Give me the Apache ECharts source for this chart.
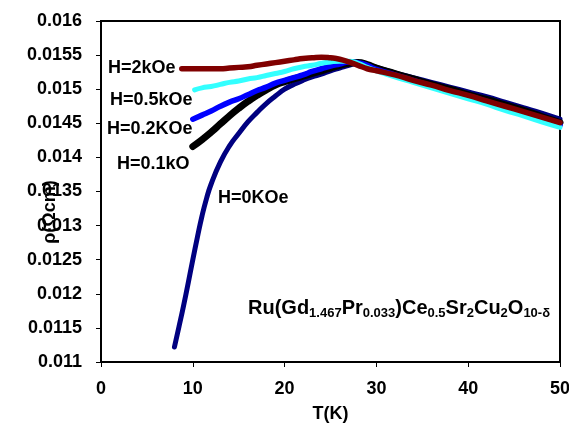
<!DOCTYPE html>
<html>
<head>
<meta charset="utf-8">
<script src="https://cdn.jsdelivr.net/npm/echarts@6/dist/echarts.min.js"></script>
<style>html,body{margin:0;padding:0;background:#fff}#c{width:569px;height:425px}</style>
</head>
<body>
<div id="c"></div>
<script>
// Temperature (K) and resistivity (ohm cm)
const T_H0   = [8, 8.5, 9, 9.5, 10, 10.5, 11, 11.5, 12, 13, 14, 15, 16, 17, 18, 19, 20, 21, 22, 23, 24, 25, 26, 27, 28, 29, 30, 32, 34, 36, 38, 40, 42, 44, 46, 48, 50];
const rho_H0 = [0.01122, 0.01152, 0.01183, 0.01216, 0.01250, 0.01283, 0.01314, 0.01340, 0.01361, 0.01393, 0.01417, 0.01435, 0.01452, 0.01466, 0.01479, 0.01490, 0.01500, 0.01507, 0.01513, 0.01518, 0.01522, 0.01527, 0.01531, 0.01535, 0.01538, 0.01536, 0.01532, 0.01524, 0.01517, 0.01510, 0.01503, 0.01496, 0.01489, 0.01481, 0.01473, 0.01465, 0.01456];

const T_H01   = [10, 11, 12, 13, 14, 15, 16, 17, 18, 19, 20, 21, 22, 23, 24, 25, 26, 27, 28, 29, 30, 32, 34, 36, 38, 40, 42, 44, 46, 48, 50];
const rho_H01 = [0.01416, 0.01426, 0.01437, 0.01449, 0.01461, 0.01472, 0.01482, 0.01491, 0.01499, 0.01506, 0.01511, 0.01515, 0.01519, 0.01523, 0.01527, 0.01531, 0.01535, 0.01538, 0.01539, 0.01536, 0.01531, 0.01523, 0.01515, 0.01507, 0.01500, 0.01492, 0.01485, 0.01477, 0.01469, 0.01460, 0.01451];

const T_H02   = [10, 11, 12, 13, 14, 15, 16, 17, 18, 19, 20, 21, 22, 23, 24, 25, 26, 27, 28, 29, 30, 32, 34, 36, 38, 40, 42, 44, 46, 48, 50];
const rho_H02 = [0.01456, 0.01462, 0.01468, 0.01475, 0.01481, 0.01486, 0.01492, 0.01498, 0.01503, 0.01509, 0.01513, 0.01517, 0.01521, 0.01526, 0.01530, 0.01534, 0.01537, 0.01540, 0.01539, 0.01535, 0.01529, 0.01521, 0.01513, 0.01505, 0.01497, 0.01490, 0.01482, 0.01473, 0.01465, 0.01456, 0.01447];

const T_H05   = [10.2, 11, 12, 13, 14, 15, 16, 17, 18, 19, 20, 21, 22, 23, 24, 25, 26, 27, 28, 29, 30, 32, 34, 36, 38, 40, 42, 44, 46, 48, 50];
const rho_H05 = [0.01499, 0.01502, 0.01504, 0.01507, 0.01510, 0.01512, 0.01515, 0.01517, 0.01520, 0.01523, 0.01526, 0.01530, 0.01533, 0.01535, 0.01538, 0.01540, 0.01541, 0.01541, 0.01538, 0.01532, 0.01527, 0.01518, 0.01510, 0.01502, 0.01494, 0.01486, 0.01478, 0.01469, 0.01461, 0.01452, 0.01444];

const T_H2   = [8.8, 10, 11, 12, 13, 14, 15, 16, 17, 18, 19, 20, 21, 22, 23, 24, 25, 26, 27, 28, 29, 30, 32, 34, 36, 38, 40, 42, 44, 46, 48, 50];
const rho_H2 = [0.01530, 0.01530, 0.01530, 0.01530, 0.01530, 0.01531, 0.01532, 0.01533, 0.01535, 0.01537, 0.01539, 0.01541, 0.01543, 0.01545, 0.01546, 0.01547, 0.01546, 0.01544, 0.01540, 0.01535, 0.01530, 0.01527, 0.01521, 0.01513, 0.01506, 0.01498, 0.01491, 0.01483, 0.01475, 0.01467, 0.01459, 0.01451];

const seriesNames = ['H=0KOe', 'H=0.1kO', 'H=0.2KOe', 'H=0.5kOe', 'H=2kOe'];
const xTicks = [0, 10, 20, 30, 40, 50];
const yTickLabels = ['0.011','0.0115','0.012','0.0125','0.013','0.0135','0.014','0.0145','0.015','0.0155','0.016'];

const pairs = (t, v) => t.map((x, i) => [x, v[i]]);
const F = '"Liberation Sans", Arial, sans-serif';

const chart = echarts.init(document.getElementById('c'));
const mk = (name, t, v, color, w) => ({
  name, type: 'line', data: pairs(t, v), smooth: true, showSymbol: false, symbol: 'none',
  lineStyle: { color, width: w, cap: 'round', join: 'round' }, animation: false
});

const lab = (text, x, y) => ({
  type: 'text', x: x, y: y,
  style: { text, font: 'bold 18px ' + F, fill: '#000', align: 'left', verticalAlign: 'middle' }
});

chart.setOption({
  animation: false,
  backgroundColor: '#fff',
  grid: { left: 101, top: 21, right: 9, bottom: 63, outerBoundsMode: 'none', containLabel: false, show: true, borderColor: '#000', borderWidth: 2, backgroundColor: 'transparent' },
  xAxis: {
    type: 'value', min: xTicks[0], max: xTicks[xTicks.length - 1], interval: 10,
    name: 'T(K)', nameLocation: 'middle', nameGap: 43,
    nameTextStyle: { fontFamily: F, fontWeight: 'bold', fontSize: 18, color: '#000' },
    axisLine: { show: true, lineStyle: { color: '#000', width: 2 } },
    axisTick: { show: true, inside: false, length: 5, lineStyle: { color: '#000', width: 1 } },
    axisLabel: { margin: 18, fontFamily: F, fontWeight: 'bold', fontSize: 18, color: '#000' },
    splitLine: { show: false }
  },
  yAxis: {
    type: 'value', min: 0.011, max: 0.016, interval: 0.0005,
    axisLine: { show: true, lineStyle: { color: '#000', width: 2 } },
    axisTick: { show: true, inside: false, length: 5, lineStyle: { color: '#000', width: 1 } },
    axisLabel: {
      margin: 19, fontFamily: F, fontWeight: 'bold', fontSize: 18, color: '#000',
      formatter: v => yTickLabels[Math.round((v - 0.011) / 0.0005)] || ''
    },
    splitLine: { show: false }
  },
  series: [
    mk(seriesNames[0], T_H0, rho_H0, '#000080', 5),
    mk(seriesNames[1], T_H01, rho_H01, '#000000', 7),
    mk(seriesNames[2], T_H02, rho_H02, '#0000FF', 5.5),
    mk(seriesNames[3], T_H05, rho_H05, '#33FFFF', 5),
    mk(seriesNames[4], T_H2, rho_H2, '#800000', 5.5)
  ],
  graphic: [
    lab(seriesNames[4], 108, 68),
    lab(seriesNames[3], 110, 100),
    lab(seriesNames[2], 107, 129),
    lab(seriesNames[1], 117, 164),
    lab(seriesNames[0], 218, 198),
    {
      type: 'text', x: 50, y: 212, rotation: Math.PI / 2,
      style: { text: 'ρ(Ωcm)', font: 'bold 18px ' + F, fill: '#000', align: 'center', verticalAlign: 'middle' }
    },
    {
      type: 'text', x: 248, y: 308,
      style: {
        text: '{m|Ru(Gd}{s|1.467}{m|Pr}{s|0.033}{m|)Ce}{s|0.5}{m|Sr}{s|2}{m|Cu}{s|2}{m|O}{s|10-δ}',
        align: 'left', verticalAlign: 'middle',
        rich: {
          m: { fontFamily: F, fontWeight: 'bold', fontSize: 20, lineHeight: 24, fill: '#000', verticalAlign: 'middle' },
          s: { fontFamily: F, fontWeight: 'bold', fontSize: 13, lineHeight: 13, fill: '#000', verticalAlign: 'bottom' }
        }
      }
    }
  ]
});
</script>
</body>
</html>
